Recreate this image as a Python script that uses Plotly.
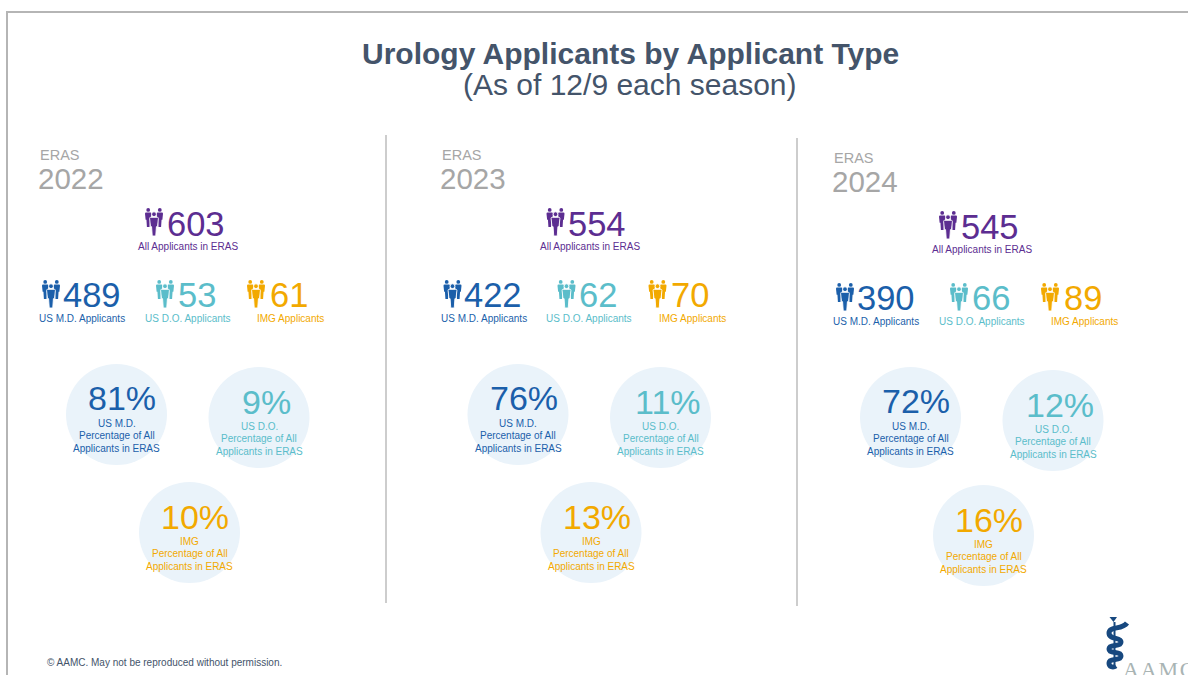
import plotly.graph_objects as go

# ---- data ----
seasons = ["2022", "2023", "2024"]
all_applicants = [603, 554, 545]
us_md = [489, 422, 390]
us_do = [53, 62, 66]
img = [61, 70, 89]
pct_md = [81, 76, 72]
pct_do = [9, 11, 12]
pct_img = [10, 13, 16]

# ---- layout constants ----
offset_x = [0, 401.5, 794]
offset_y = [0, 0, 3]
PURPLE, BLUE, TEAL, GOLD = "#5C2D91", "#1B5FAA", "#5BBDCA", "#F2A900"
SLATE, GREY, FONT = "#44546A", "#A6A6A6", "Liberation Sans"

ann, shapes = [], []


def text(x, y, s, size, color, anchor="center", bold=False, font=FONT):
    ann.append(dict(x=x, y=y, xref="x", yref="y", text=f"<b>{s}</b>" if bold else s,
                    showarrow=False, xanchor=anchor, yanchor="middle", borderpad=0,
                    font=dict(size=size, color=color, family=font)))


def person(cx, top, r, hw, h):
    """Head circle with a gap, then a torso tapering to the feet."""
    head = dict(type="circle", xref="x", yref="y", x0=cx - r, x1=cx + r, y0=top, y1=top + 2 * r)
    y0 = top + 2 * r + 0.7
    waist = y0 + (top + h - y0) * 0.5
    body = (f"M {cx-hw+1} {y0} L {cx+hw-1} {y0} Q {cx+hw} {y0} {cx+hw} {y0+1.2} "
            f"L {cx+hw*0.8} {waist} L {cx+hw*0.55} {waist} "
            f"L {cx+hw*0.4} {top+h} L {cx-hw*0.4} {top+h} "
            f"L {cx-hw*0.55} {waist} L {cx-hw*0.8} {waist} "
            f"L {cx-hw} {y0+1.2} Q {cx-hw} {y0} {cx-hw+1} {y0} Z")
    return head, body


def icon(x, y, color):
    for cx, top, r, hw, h, lw in [(x + 3.2, y, 1.9, 3.2, 19, 0), (x + 14.8, y, 1.9, 3.2, 19, 0),
                                  (x + 9, y + 3.8, 2.4, 4.4, 24.2, 0.9)]:
        head, body = person(cx, top, r, hw, h)
        shapes.append(dict(type="path", xref="x", yref="y", path=body, fillcolor=color,
                           line=dict(color="white", width=lw)))
        head.update(fillcolor=color, line=dict(color="white", width=lw))
        shapes.append(head)


def line(x0, y0, x1, y1, color, width):
    shapes.append(dict(type="line", xref="x", yref="y", x0=x0, y0=y0, x1=x1, y1=y1,
                       line=dict(color=color, width=width)))


# frame and dividers
line(7, 12, 1188, 12, "#B5B5B5", 2)
line(7, 11, 7, 675, "#B5B5B5", 2)
line(386, 135, 386, 603, "#BDBDBD", 1.5)
line(797, 138, 797, 606, "#BDBDBD", 1.5)

# titles
text(630, 53.5, "Urology Applicants by Applicant Type", 30, SLATE, bold=True)
text(630, 84.5, "(As of 12/9 each season)", 30, SLATE)
text(46, 662, "© AAMC. May not be reproduced without permission.", 10, SLATE, "left")

bubble_x, bubble_y = [], []
for i, season in enumerate(seasons):
    dx, dy = offset_x[i], offset_y[i]
    text(39 + dx, 155 + dy, "ERAS", 14.5, GREY, "left")
    text(37 + dx, 178 + dy, season, 29.5, GREY, "left")

    icon(145 + dx, 208 + dy, PURPLE)
    text(165.5 + dx, 223.5 + dy, all_applicants[i], 34.5, PURPLE, "left")
    text(188 + dx, 246 + dy, "All Applicants in ERAS", 10, PURPLE)

    for ix, tx, lx, val, lab, col in [
        (42, 61.5, 82, us_md[i], "US M.D. Applicants", BLUE),
        (156, 176.5, 187.5, us_do[i], "US D.O. Applicants", TEAL),
        (247, 268.5, 290.5, img[i], "IMG Applicants", GOLD),
    ]:
        icon(ix + dx, 280 + dy, col)
        text(tx + dx, 294.5 + dy, val, 34.5, col, "left")
        text(lx + dx, 318 + dy, lab, 10, col)

    for cx, cy, px, py, val, name, col in [
        (116.5, 414.5, 122, 398, pct_md[i], "US M.D.", BLUE),
        (259, 417.5, 266, 402, pct_do[i], "US D.O.", TEAL),
        (189.5, 532.5, 195, 516.5, pct_img[i], "IMG", GOLD),
    ]:
        bubble_x.append(cx + dx)
        bubble_y.append(cy + dy)
        text(px + dx, py + dy, f"{val}%", 34, col)
        text(cx + dx, cy + dy + 9, name, 10, col)
        text(cx + dx, cy + dy + 21, "Percentage of All", 10, col)
        text(cx + dx, cy + dy + 33.5, "Applicants in ERAS", 10, col)

# AAMC logo
LOGO = "#17487F"
shapes.append(dict(type="path", xref="x", yref="y",
                   path="M 1109.5 617 L 1117 617 L 1113.5 622 Z", fillcolor=LOGO,
                   line=dict(width=0)))
line(1114.5, 622, 1114.5, 668, LOGO, 2)
shapes.append(dict(type="path", xref="x", yref="y",
                   path="M 1127 623 C 1122 630 1109 626 1109 633 C 1109 640 1121 637 1121 642 "
                        "C 1121 648 1109 643 1109 649 C 1109 655 1121 650 1121 656 "
                        "C 1121 662 1109 657 1109 663 C 1109 667 1113 668 1116 666",
                   line=dict(color=LOGO, width=5)))
ann.append(dict(x=1121.5, y=669, xref="x", yref="y", text="A\u200aA\u200aM\u200aC", showarrow=False,
                xanchor="left", yanchor="middle", borderpad=0,
                font=dict(size=22, color="#A9B4B4", family="Liberation Serif")))

fig = go.Figure(go.Scatter(x=bubble_x, y=bubble_y, mode="markers", hoverinfo="skip",
                           marker=dict(size=101, color="#EAF3FA", line=dict(width=0))))
fig.update_layout(
    width=1188, height=675, margin=dict(l=0, r=0, t=0, b=0),
    paper_bgcolor="white", plot_bgcolor="white", showlegend=False,
    xaxis=dict(range=[0, 1188], visible=False, fixedrange=True),
    yaxis=dict(range=[675, 0], visible=False, fixedrange=True),
    annotations=ann, shapes=shapes,
)
fig.write_html("out.html", config=dict(displayModeBar=False),
               post_script="document.body.style.margin='0';")
